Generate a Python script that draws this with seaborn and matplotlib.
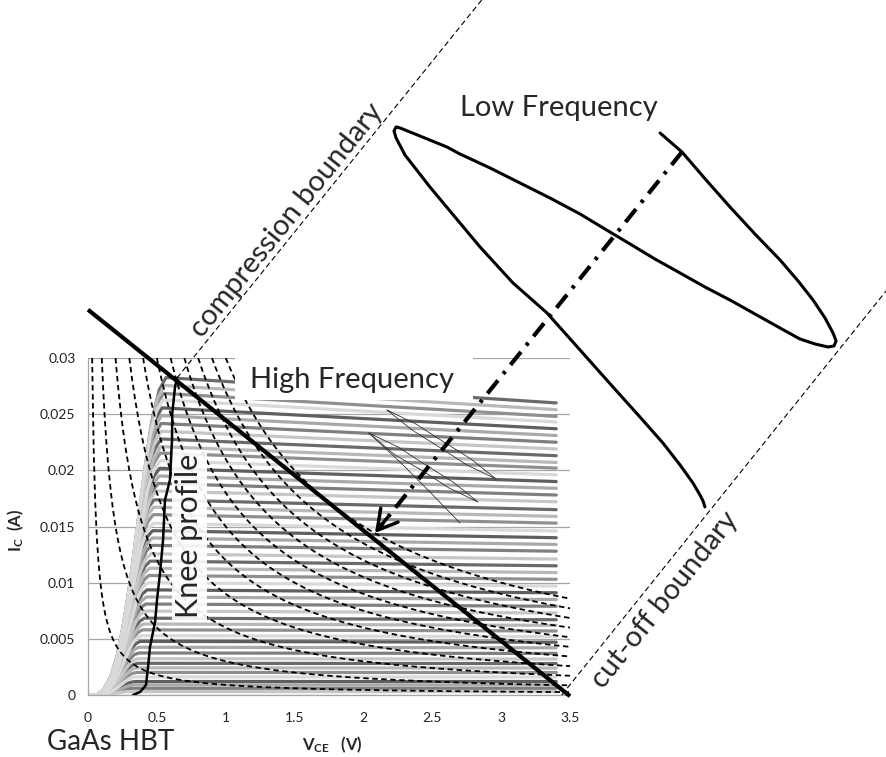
import numpy as np
import pandas as pd
import matplotlib
matplotlib.use("Agg")
import matplotlib.pyplot as plt
from matplotlib.patches import Rectangle
import seaborn as sns

# ---------------- data ----------------
x_ticks = [0, 0.5, 1, 1.5, 2, 2.5, 3, 3.5]
x_tick_labels = ["0", "0.5", "1", "1.5", "2", "2.5", "3", "3.5"]
y_ticks = [0, 0.005, 0.01, 0.015, 0.02, 0.025, 0.03]
y_tick_labels = ["0", "0.005", "0.01", "0.015", "0.02", "0.025", "0.03"]

# I-V family: current at the knee (peak) and at V_CE = 3.4 V (end)
curve_peak = [0.0003, 0.0006, 0.0009, 0.0012, 0.00161, 0.00201, 0.00242, 0.00282,
              0.00323, 0.00374, 0.00425, 0.00477, 0.00528, 0.0058, 0.00632, 0.00684,
              0.00747, 0.0081, 0.00873, 0.00936, 0.0100, 0.01064, 0.01128, 0.01192,
              0.01257, 0.01332, 0.01398, 0.01463, 0.01529, 0.01606, 0.01672, 0.01738,
              0.01816, 0.01883, 0.0195, 0.02018, 0.02086, 0.02154, 0.02211, 0.02279,
              0.02348, 0.02417, 0.02487, 0.02556, 0.02627, 0.02685, 0.02756, 0.02826]
curve_end = [0.0003, 0.0006, 0.0009, 0.0012, 0.0016, 0.0020, 0.0024, 0.0028,
             0.0032, 0.0037, 0.0042, 0.0047, 0.0052, 0.0057, 0.0062, 0.0067,
             0.0073, 0.0079, 0.0085, 0.0091, 0.0097, 0.0103, 0.0109, 0.0115,
             0.0121, 0.0128, 0.0134, 0.0140, 0.0146, 0.0153, 0.0159, 0.0165,
             0.0172, 0.0178, 0.0184, 0.0190, 0.0196, 0.0202, 0.0207, 0.0213,
             0.0219, 0.0225, 0.0231, 0.0237, 0.0243, 0.0248, 0.0254, 0.0260]
curve_v_start = 0.07
curve_v_stop = 3.4
# normalised rise of a curve from its start voltage to its knee
rise_t = [0, 0.1, 0.2, 0.3, 0.4, 0.5, 0.6, 0.7, 0.8, 0.9, 1.0]
rise_f = [0, 0.02, 0.06, 0.13, 0.24, 0.38, 0.55, 0.72, 0.87, 0.96, 1.0]
gray_shades = ["#c6c6c6", "#7f7f7f", "#a9a9a9", "#5f5f5f", "#d9d9d9", "#8f8f8f", "#b8b8b8", "#6a6a6a"]

# knee profile
knee_V = [0.327, 0.378, 0.421, 0.436, 0.450, 0.487, 0.501, 0.523, 0.545, 0.559, 0.595, 0.610, 0.612, 0.632, 0.646]
knee_I = [0.0, 0.00027, 0.00089, 0.00249, 0.00427, 0.0065, 0.00846, 0.01086, 0.0138, 0.01736,
          0.01914, 0.0227, 0.0251, 0.02742, 0.02822]

# constant power contours (W)
power_levels = [0.0009, 0.003, 0.006, 0.009, 0.012, 0.015, 0.018, 0.021, 0.024, 0.027, 0.030]

# load line
load_V = [0.0, 3.5]
load_I = [0.0343, -0.0001]

# boundaries
comp_V = [0.646, 2.90]
comp_I = [0.02822, 0.0625]
cut_V = [3.44, 5.85]
cut_I = [0.0, 0.0368]

# low frequency dynamic load line
lf_V = [4.154, 4.313, 4.488, 4.662, 4.843, 5.025, 5.156, 5.265, 5.352, 5.410, 5.432, 5.417,
        5.374, 5.279, 5.170, 5.025, 4.843, 4.662, 4.480, 4.299, 4.117, 3.936, 3.754, 3.573,
        3.355, 3.137, 2.919, 2.701, 2.607, 2.447, 2.338, 2.266, 2.237,
        2.222, 2.237, 2.302, 2.483, 2.665, 2.847, 3.086, 3.333, 3.573, 3.812, 4.008, 4.175,
        4.299, 4.393, 4.444, 4.466, 4.480]
lf_I = [0.05003, 0.04834, 0.04585, 0.04344, 0.04104, 0.03873, 0.03686, 0.03516, 0.03356, 0.03223, 0.03152, 0.03107,
        0.03098, 0.03125, 0.03169, 0.03267, 0.03392, 0.03516, 0.03632, 0.03757, 0.03881, 0.04015, 0.04148, 0.04282,
        0.04424, 0.04558, 0.04692, 0.04816, 0.04878, 0.04958, 0.05012, 0.05048, 0.05057,
        0.05021, 0.04959, 0.04807, 0.04522, 0.04255, 0.03988, 0.03668, 0.03401, 0.03071, 0.02742, 0.02475, 0.02243,
        0.02048, 0.01887, 0.01780, 0.01727, 0.01674]

# high frequency loops
hfa_V = [2.171, 2.382, 2.578, 2.781, 2.963, 2.752, 2.556, 2.353, 2.171]
hfa_I = [0.02537, 0.02412, 0.02257, 0.02101, 0.01923, 0.02047, 0.02203, 0.02359, 0.02537]
hfb_V = [2.040, 2.251, 2.447, 2.650, 2.832, 2.621, 2.425, 2.229, 2.040]
hfb_I = [0.02332, 0.02208, 0.02052, 0.01896, 0.01718, 0.01843, 0.01999, 0.02137, 0.02332]
hft_V = [2.040, 2.266, 2.483, 2.701]
hft_I = [0.02332, 0.02074, 0.01807, 0.01531]

# arrow from the low-frequency loop to the load line
arrow_start = (4.313, 0.04834)
arrow_tip = (2.084, 0.01442)

# ---------------- style ----------------
sns.set_style("white")
plt.rcParams["font.family"] = ["Lato", "DejaVu Sans"]
plt.rcParams["mathtext.fontset"] = "custom"
plt.rcParams["mathtext.rm"] = "Lato"
plt.rcParams["mathtext.bf"] = "Lato:bold"
plt.rcParams["mathtext.it"] = "Lato:italic"

fig = plt.figure(figsize=(8.87, 7.57), dpi=100)
ax = fig.add_axes([88 / 887, 62 / 757, 482 / 887, 337 / 757])

# ---------------- I-V family via seaborn ----------------
V = np.linspace(0, curve_v_stop, 500)
frames = []
for k, (pk, en) in enumerate(zip(curve_peak, curve_end)):
    vk = np.interp(pk, knee_I, knee_V) - 0.08
    t = np.clip((V - curve_v_start) / (vk - curve_v_start), 0, None)
    rise = pk * np.interp(t, rise_t, rise_f)
    plateau = pk + (en - pk) * np.clip((V - vk) / (curve_v_stop - vk), 0, 1)
    I = np.where(V < vk, rise, plateau)
    frames.append(pd.DataFrame({"V": V, "I": I, "curve": k}))
df = pd.concat(frames, ignore_index=True)
palette = {k: gray_shades[k % len(gray_shades)] for k in range(len(curve_peak))}
# darker lines first so the lighter ones sit on top in the crowded knee region
order = sorted(palette, key=lambda k: int(palette[k][1:3], 16))
sns.lineplot(data=df, x="V", y="I", hue="curve", hue_order=order, palette=palette, legend=False,
             linewidth=2.3, estimator=None, sort=False, ax=ax, zorder=2)

# constant power hyperbolas
for P in power_levels:
    vh = np.linspace(P / 0.03, 3.5, 300)
    ax.plot(vh, P / vh, color="black", lw=1.3, ls=(0, (3, 2)), zorder=3)

# white box behind "High Frequency"
ax.add_patch(Rectangle((1.067, 0.02626), 1.729, 0.0045, facecolor="white",
                       edgecolor="none", zorder=4, clip_on=False))

# high-frequency loops
for hv, hi in [(hfa_V, hfa_I), (hfb_V, hfb_I), (hft_V, hft_I)]:
    ax.plot(hv, hi, color="#333333", lw=0.6, zorder=5)

# knee profile text
ax.text(0.735, 0.0142, "Knee profile", rotation=90, fontsize=22, ha="center", va="center",
        bbox=dict(facecolor="white", edgecolor="none", alpha=0.9, boxstyle="square,pad=0.12"),
        zorder=5)

# knee profile line and load line
ax.plot(knee_V, knee_I, color="black", lw=1.8, zorder=6)
ax.plot(load_V, load_I, color="black", lw=3.0, zorder=6, clip_on=False, solid_capstyle="butt")

# boundaries
ax.plot(comp_V, comp_I, color="black", lw=0.8, ls=(0, (5, 3)), zorder=6, clip_on=False)
ax.plot(cut_V, cut_I, color="black", lw=0.8, ls=(0, (5, 3)), zorder=6, clip_on=False)

# low frequency loop
ax.plot(lf_V, lf_I, color="black", lw=2.2, zorder=6, clip_on=False,
        solid_joinstyle="round", solid_capstyle="round")

# dash-dot arrow
ax.plot([arrow_start[0], arrow_tip[0] + 0.03], [arrow_start[1], arrow_tip[1] + 0.00045],
        color="black", lw=3.0, ls=(0, (4, 2, 0.8, 2)), zorder=7, clip_on=False, dash_capstyle="butt")
dv = arrow_start[0] - arrow_tip[0]
di = arrow_start[1] - arrow_tip[1]
ax.annotate("", xy=arrow_tip, xytext=(arrow_tip[0] + 0.04 * dv, arrow_tip[1] + 0.04 * di),
            arrowprops=dict(arrowstyle="->,head_length=0.7,head_width=0.4", lw=2.5, color="black",
                            shrinkA=0, shrinkB=0, mutation_scale=20),
            annotation_clip=False, zorder=7)

# texts
ax.text(1.917, 0.02804, "High Frequency", fontsize=21, ha="center", va="center", zorder=8, clip_on=False)
ax.text(3.42, 0.05226, "Low Frequency", fontsize=21, ha="center", va="center", zorder=8, clip_on=False)
ax.text(1.445, 0.04229, "compression boundary", fontsize=21, rotation=51.3, rotation_mode="anchor",
        ha="center", va="center", zorder=8, clip_on=False)
ax.text(4.19, 0.00846, "cut-off boundary", fontsize=21, rotation=51.3, rotation_mode="anchor",
        ha="center", va="center", zorder=8, clip_on=False)

fig.text(47 / 887, 1 - 742 / 757, "GaAs HBT", fontsize=20, ha="left", va="center")
fig.text(16 / 887, 1 - 530 / 757, r"$\mathbf{I_C}$  (A)", fontsize=12, fontweight="bold",
         rotation=90, ha="center", va="center")
fig.text(332 / 887, 1 - 745 / 757, r"$\mathbf{V_{CE}}$   (V)", fontsize=12, fontweight="bold",
         ha="center", va="center")

# axes styling
ax.set_xlim(0, 3.5)
ax.set_ylim(0, 0.03)
ax.set_xticks(x_ticks)
ax.set_xticklabels(x_tick_labels)
ax.set_yticks(y_ticks)
ax.set_yticklabels(y_tick_labels)
ax.set_xlabel("")
ax.set_ylabel("")
ax.yaxis.grid(True, color="#a6a6a6", lw=0.9)
ax.xaxis.grid(False)
ax.set_axisbelow(True)
for s in ["top", "right"]:
    ax.spines[s].set_visible(False)
for s in ["left", "bottom"]:
    ax.spines[s].set_color("#a6a6a6")
    ax.spines[s].set_linewidth(0.9)
ax.tick_params(axis="both", direction="out", length=5, width=0.9, color="#a6a6a6",
               labelsize=10, labelcolor="#222222")
ax.tick_params(axis="x", pad=7)
ax.tick_params(axis="y", pad=4)
ax.set_facecolor("none")

fig.savefig("out.png", dpi=100)
